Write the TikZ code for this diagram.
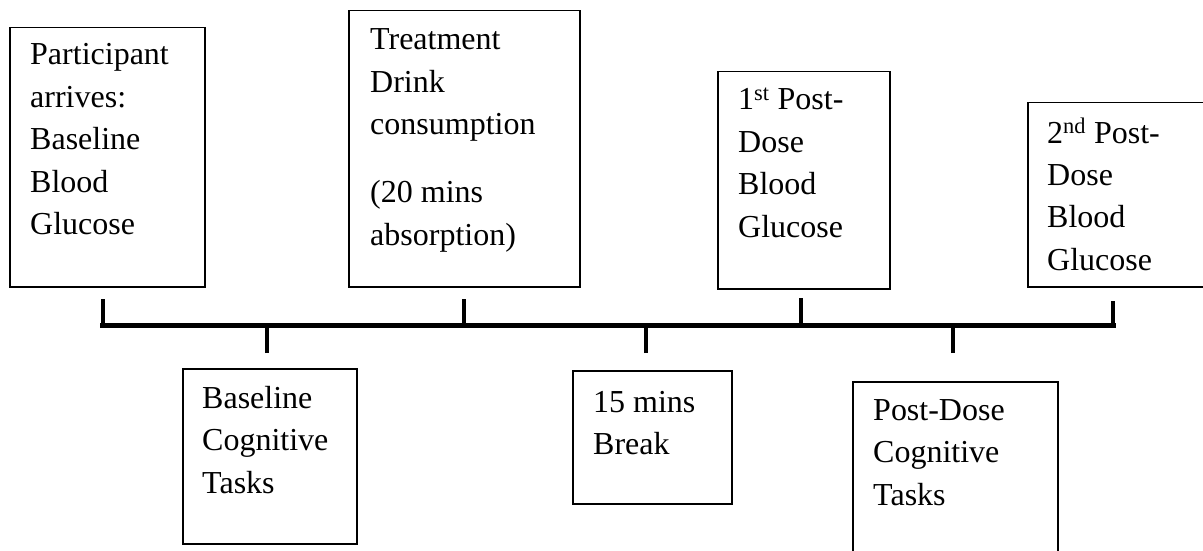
\documentclass[tikz,border=0pt]{standalone}
\usepackage{fontspec}
\setmainfont{Liberation Serif}
\begin{document}
\begin{tikzpicture}[x=1pt,y=-1pt,
  box/.style={draw=black, line width=1.5pt, rectangle, inner sep=0pt, anchor=north west},
  txt/.style={anchor=base west, inner sep=0pt, font=\fontsize{32}{42.5}\selectfont},
  bar/.style={line width=5.5pt},
  tick/.style={line width=4.5pt}]
\clip (0,0) rectangle (1203,551);
\fill[white] (0,0) rectangle (1203,551);

% event boxes above the time line
\node[box, minimum width=195pt, minimum height=259pt] (arrive) at (9,27) {};
\node[box, minimum width=231pt, minimum height=276pt] (drink) at (348,10) {};
\node[box, minimum width=172pt, minimum height=217pt] (post1) at (717,71) {};
\node[box, minimum width=190pt, minimum height=184pt] (post2) at (1027,102) {};

% activity boxes below the time line
\node[box, minimum width=174pt, minimum height=175pt] (basecog) at (182,368) {};
\node[box, minimum width=159pt, minimum height=133pt] (brk) at (572,370) {};
\node[box, minimum width=205pt, minimum height=190pt] (postcog) at (852,381) {};

% box texts
\newcommand{\lines}[1]{\parbox[t]{8cm}{\fontsize{32}{42.5}\selectfont #1}}
\node[txt] (arriveT) at (30,65) {\lines{Participant\\arrives:\\Baseline\\Blood\\Glucose}};
\node[txt] (drinkT) at (370,50) {\lines{Treatment\\Drink\\consumption\\[25.5pt](20 mins\\absorption)}};
\node[txt] (post1T) at (738,110) {\lines{1\textsuperscript{st} Post-\\Dose\\Blood\\Glucose}};
\node[txt] (post2T) at (1047,143) {\lines{2\textsuperscript{nd} Post-\\Dose\\Blood\\Glucose}};
\node[txt] (basecogT) at (202,408) {\lines{Baseline\\Cognitive\\Tasks}};
\node[txt] (brkT) at (593,412) {\lines{15 mins\\Break}};
\node[txt] (postcogT) at (873,420) {\lines{Post-Dose\\Cognitive\\Tasks}};

% time line
\coordinate (lineL) at (100,325.5);
\coordinate (lineR) at (1116,325.5);
\draw[bar] (lineL) -- (lineR);

% tick ends
\coordinate (tA) at (103,299);
\coordinate (tB) at (464,299);
\coordinate (tC) at (801,298);
\coordinate (tD) at (1113,301);
\coordinate (tE) at (267,353);
\coordinate (tF) at (646,353);
\coordinate (tG) at (953,353);

\foreach \t in {tA,tB,tC,tD,tE,tF,tG}
  \draw[tick] (\t) -- (\t |- lineL);
\end{tikzpicture}
\end{document}
